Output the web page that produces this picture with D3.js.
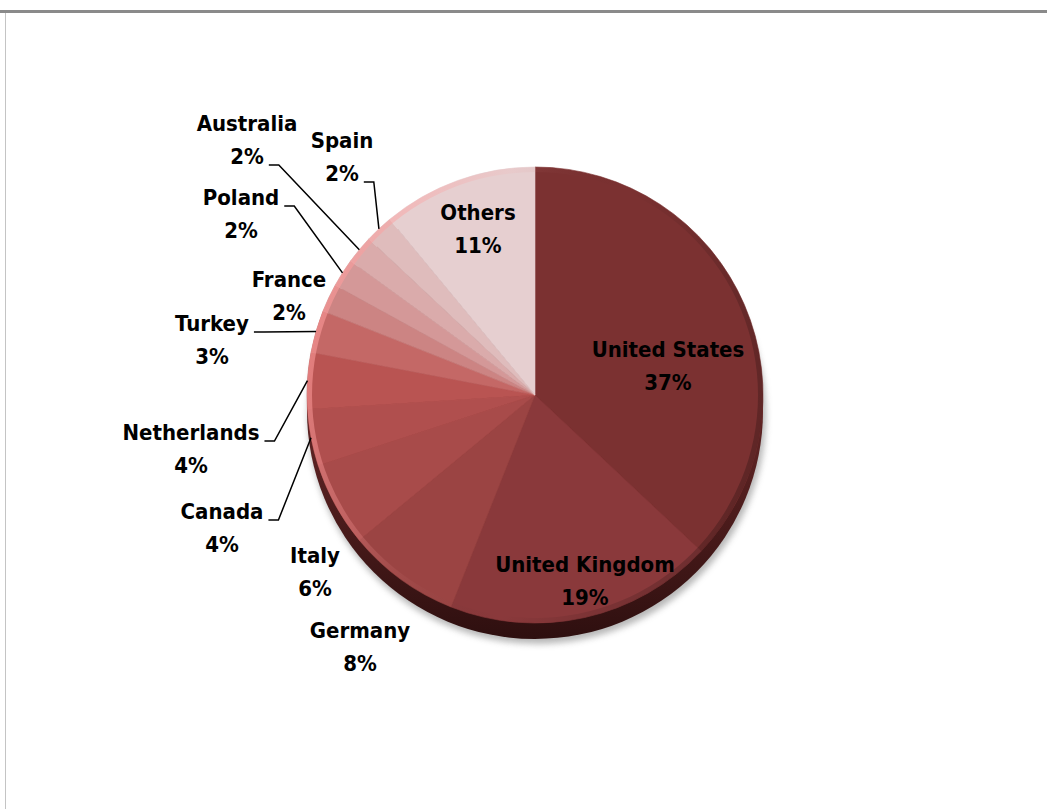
<!DOCTYPE html>
<html>
<head>
<meta charset="utf-8">
<script src="https://cdn.jsdelivr.net/npm/d3@7/dist/d3.min.js"></script>
<style>
  html, body { margin: 0; padding: 0; background: #ffffff; }
  svg { display: block; }
  .lbl { font-family: "DejaVu Sans", sans-serif; font-stretch: condensed;
         font-weight: bold; font-size: 22px; letter-spacing: 0px; fill: #000; }
</style>
</head>
<body>
<svg id="chart" width="1047" height="809"></svg>
<script>
// Share by country, clockwise from 12 o'clock
const countries = ["United States", "United Kingdom", "Germany", "Italy", "Canada",
                   "Netherlands", "Turkey", "France", "Poland", "Australia", "Spain", "Others"];
const shares = [37, 19, 8, 6, 4, 4, 3, 2, 2, 2, 2, 11];
const sliceColors = ["#7b3131", "#8a393b", "#9b4443", "#a84b4a", "#b04f4e", "#b95452",
                     "#c46866", "#cc8483", "#d49898", "#daabab", "#dfbcbc", "#e6cfd0"];

// Label layout: centre of the first text line; lead = line the leader starts from
const labelLayout = {
  "United States":  { x: 668, y: 349 },
  "United Kingdom": { x: 585, y: 564 },
  "Germany":        { x: 360, y: 630 },
  "Italy":          { x: 315, y: 555 },
  "Canada":         { x: 222, y: 511, lead: 0 },
  "Netherlands":    { x: 191, y: 432, lead: 0 },
  "Turkey":         { x: 212, y: 323, lead: 0 },
  "France":         { x: 289, y: 279 },
  "Poland":         { x: 241, y: 197, lead: 0 },
  "Australia":      { x: 247, y: 123, lead: 1 },
  "Spain":          { x: 342, y: 140, lead: 1 },
  "Others":         { x: 478, y: 212 }
};

const W = 1047, H = 809;
const cx = 535, cy = 395, R = 228;
const lineGap = 33;

const svg = d3.select("#chart");
const defs = svg.append("defs");

// frame
svg.append("rect").attr("x", 0).attr("y", 10).attr("width", W).attr("height", 3).attr("fill", "#8a8a8a");
svg.append("line").attr("x1", 5.5).attr("x2", 5.5).attr("y1", 13).attr("y2", H)
  .attr("stroke", "#c4c4c4").attr("stroke-width", 1);

const blur = defs.append("filter").attr("id", "soft").attr("x", "-20%").attr("y", "-20%")
  .attr("width", "140%").attr("height", "140%");
blur.append("feGaussianBlur").attr("stdDeviation", 3);

const data = countries.map((c, i) => ({ name: c, value: shares[i], color: sliceColors[i] }));

const pie = d3.pie().value(d => d.value).sort(null).startAngle(0).endAngle(2 * Math.PI);
const arcs = pie(data);
const arc = d3.arc().innerRadius(0).outerRadius(R);

const g = svg.append("g").attr("transform", `translate(${cx},${cy})`);

// soft shadow and dark rim under the pie
g.append("circle").attr("cx", 2).attr("cy", 20).attr("r", R + 1)
  .attr("fill", "#9a9a9a").attr("opacity", 0.7).attr("filter", "url(#soft)");
const rimGrad = defs.append("linearGradient").attr("id", "rim")
  .attr("x1", "0%").attr("y1", "0%").attr("x2", "0%").attr("y2", "100%");
rimGrad.append("stop").attr("offset", "60%").attr("stop-color", "#5a2222");
rimGrad.append("stop").attr("offset", "100%").attr("stop-color", "#2e0f0f");
g.append("circle").attr("cx", 0).attr("cy", 16).attr("r", R)
  .attr("fill", "url(#rim)");

// slices
g.selectAll("path.slice").data(arcs).join("path")
  .attr("class", "slice")
  .attr("d", arc)
  .attr("fill", d => d.data.color)
  .attr("stroke", d => d.data.color)
  .attr("stroke-width", 0.6);

// bevel ring: light along the left edge, darker towards the bottom
const bevel = defs.append("linearGradient").attr("id", "bevel")
  .attr("x1", "0%").attr("y1", "40%").attr("x2", "100%").attr("y2", "70%");
bevel.append("stop").attr("offset", "0%").attr("stop-color", "#ff9c9c").attr("stop-opacity", 0.6);
bevel.append("stop").attr("offset", "30%").attr("stop-color", "#ff9c9c").attr("stop-opacity", 0.1);
bevel.append("stop").attr("offset", "55%").attr("stop-color", "#000000").attr("stop-opacity", 0.0);
bevel.append("stop").attr("offset", "100%").attr("stop-color", "#000000").attr("stop-opacity", 0.25);
g.append("path")
  .attr("d", d3.arc().innerRadius(R - 5).outerRadius(R)({ startAngle: 0, endAngle: 2 * Math.PI }))
  .attr("fill", "url(#bevel)");

// labels
const textW = {};
const labels = svg.append("g");
arcs.forEach(a => {
  const L = labelLayout[a.data.name];
  const t = labels.append("text").attr("class", "lbl").attr("text-anchor", "middle");
  t.append("tspan").attr("x", L.x).attr("y", L.y).attr("dy", "0.36em").text(a.data.name);
  t.append("tspan").attr("x", L.x).attr("y", L.y + lineGap).attr("dy", "0.36em").text(a.data.value + "%");
  textW[a.data.name] = t.selectAll("tspan").nodes().map(s => s.getComputedTextLength());
});

// leader lines: short horizontal tick beside the label, then straight to the slice edge
arcs.forEach(a => {
  const L = labelLayout[a.data.name];
  if (L.lead === undefined) return;
  const w = textW[a.data.name][L.lead];
  const ly = L.y + L.lead * lineGap + 9;
  const x0 = L.x + w / 2 + 5;
  const x1 = x0 + 10;
  const mid = (a.startAngle + a.endAngle) / 2;
  const ex = cx + R * Math.sin(mid);
  const ey = cy - R * Math.cos(mid);
  svg.append("path")
    .attr("d", d3.line()([[x0, ly], [x1, ly], [ex, ey]]))
    .attr("fill", "none").attr("stroke", "#000").attr("stroke-width", 1.5);
});
</script>
</body>
</html>
